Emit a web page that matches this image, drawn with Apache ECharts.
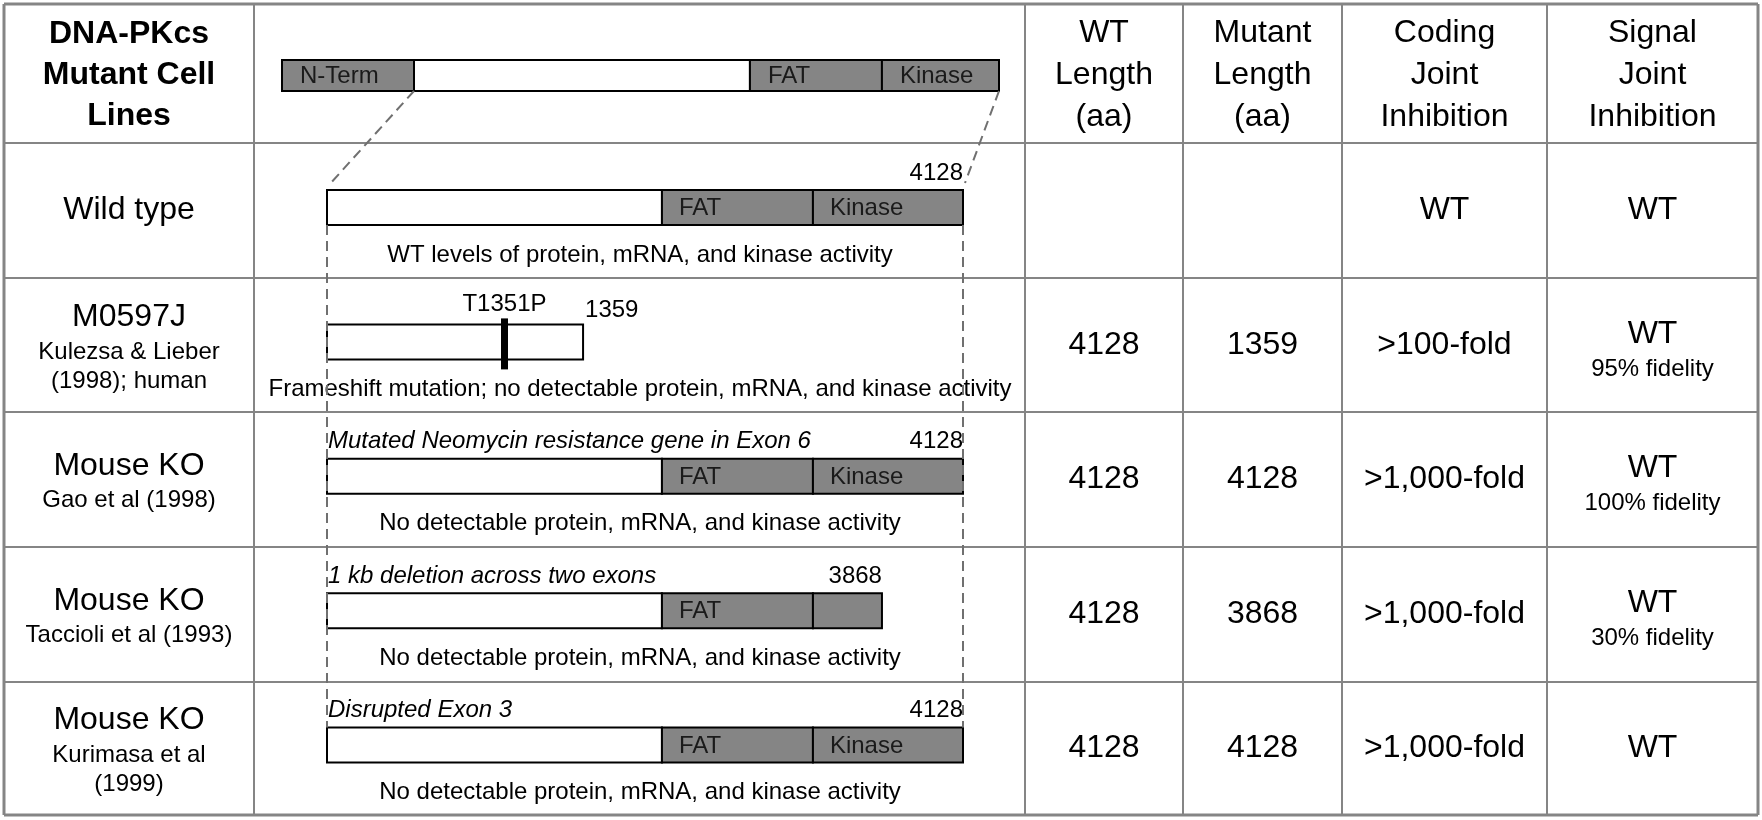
<!DOCTYPE html>
<html><head><meta charset="utf-8">
<script src="https://cdn.jsdelivr.net/npm/echarts@6/dist/echarts.min.js"></script>
<style>html,body{margin:0;padding:0;background:#fff}#c{width:1762px;height:820px}</style>
</head><body><div id="c"></div>
<script>
// ---------------- data ----------------
const headers = ['DNA-PKcs\nMutant Cell\nLines', '', 'WT\nLength\n(aa)', 'Mutant\nLength\n(aa)', 'Coding\nJoint\nInhibition', 'Signal\nJoint\nInhibition'];
const cellLines = ['Wild type', 'M0597J', 'Mouse KO', 'Mouse KO', 'Mouse KO'];
const cellRefs = [[], ['Kulezsa & Lieber', '(1998); human'], ['Gao et al (1998)'], ['Taccioli et al (1993)'], ['Kurimasa et al', '(1999)']];
const wtLength = ['', '4128', '4128', '4128', '4128'];
const mutantLength = ['', '1359', '4128', '3868', '4128'];
const codingInhibition = ['WT', '>100-fold', '>1,000-fold', '>1,000-fold', '>1,000-fold'];
const signalInhibition = ['WT', 'WT', 'WT', 'WT', 'WT'];
const signalFidelity = ['', '95% fidelity', '100% fidelity', '30% fidelity', ''];

const proteinLength = 4128;
// overview bar (header) domains, schematic aa positions
const overviewStarts = [0, 760, 2694, 3454];
const overviewEnds = [760, 2694, 3454, 4128];
const overviewLabels = ['N-Term', '', 'FAT', 'Kinase'];
const overviewShaded = [1, 0, 1, 1];
// per-row protein diagrams, schematic aa positions
const rowSegStarts = [[0, 2174, 3154], [0], [0, 2174, 3154], [0, 2174, 3154], [0, 2174, 3154]];
const rowSegEnds = [[2174, 3154, 4128], [1662], [2174, 3154, 4128], [2174, 3154, 3602], [2174, 3154, 4128]];
const rowSegLabels = [['', 'FAT', 'Kinase'], [''], ['', 'FAT', 'Kinase'], ['', 'FAT', ''], ['', 'FAT', 'Kinase']];
const rowSegShaded = [[0, 1, 1], [0], [0, 1, 1], [0, 1, 1], [0, 1, 1]];
const endLabels = ['4128', '1359', '4128', '3868', '4128'];
const mutationPos = [null, 1152, null, null, null];
const mutationLabels = ['', 'T1351P', '', '', ''];
const notes = ['', '', 'Mutated Neomycin resistance gene in Exon 6', '1 kb deletion across two exons', 'Disrupted Exon 3'];
const effects = [
  'WT levels of protein, mRNA, and kinase activity',
  'Frameshift mutation; no detectable protein, mRNA, and kinase activity',
  'No detectable protein, mRNA, and kinase activity',
  'No detectable protein, mRNA, and kinase activity',
  'No detectable protein, mRNA, and kinase activity'
];

// ---------------- layout / style ----------------
const FONT = "'Liberation Sans', Arial, Helvetica, sans-serif";
const colEdges = [4, 254, 1025, 1183, 1342, 1547, 1758];
const rowEdges = [4, 143, 278, 412, 547, 682, 815];
const LINE = '#858585';
const GRAY = '#858585';
const DASH = '#707070';
const BAR_TOP = 47, BAR_BOTTOM = 82;
const endLabelAfter = [false, true, false, false, false];

const chart = echarts.init(document.getElementById('c'), null, {renderer: 'canvas'});

// table graphics
const graphics = [];
rowEdges.forEach((y, i) => {
  const outer = (i === 0 || i === rowEdges.length - 1);
  graphics.push({type: 'line', z: 1, shape: {x1: colEdges[0], y1: y, x2: colEdges[colEdges.length - 1], y2: y}, style: {stroke: LINE, lineWidth: outer ? 3 : 2}});
});
colEdges.forEach((x, i) => {
  const outer = (i === 0 || i === colEdges.length - 1);
  graphics.push({type: 'line', z: 1, shape: {x1: x, y1: rowEdges[0], x2: x, y2: rowEdges[rowEdges.length - 1]}, style: {stroke: LINE, lineWidth: outer ? 3 : 2}});
});
function txt(text, x, y, size, opts) {
  opts = opts || {};
  return {type: 'text', z: 5, x: x, y: y, style: {text: text, font: (opts.weight || 'normal') + ' ' + size + 'px ' + FONT, fill: '#000', align: opts.align || 'center', verticalAlign: 'middle', lineHeight: opts.lineHeight || size * 1.2}};
}
const colCenter = c => (colEdges[c] + colEdges[c + 1]) / 2;
const rowCenter = r => (rowEdges[r + 1] + rowEdges[r + 2]) / 2;
headers.forEach((h, c) => {
  if (!h) return;
  graphics.push(txt(h, colCenter(c), 75, 32, {weight: c === 0 ? 'bold' : 'normal', lineHeight: c === 0 ? 41 : 42}));
});
cellLines.forEach((name, r) => {
  const cy = rowCenter(r), cx = colCenter(0);
  const refs = cellRefs[r];
  if (refs.length === 0) {
    graphics.push(txt(name, cx, cy, 32));
  } else if (refs.length === 1) {
    graphics.push(txt(name, cx, cy - 13, 32));
    graphics.push(txt(refs[0], cx, cy + 21, 24));
  } else {
    graphics.push(txt(name, cx, cy - 28, 32));
    graphics.push(txt(refs[0], cx, cy + 7, 24));
    graphics.push(txt(refs[1], cx, cy + 36, 24));
  }
  if (wtLength[r]) graphics.push(txt(wtLength[r], colCenter(2), cy, 32));
  if (mutantLength[r]) graphics.push(txt(mutantLength[r], colCenter(3), cy, 32));
  graphics.push(txt(codingInhibition[r], colCenter(4), cy, 32));
  if (signalFidelity[r]) {
    graphics.push(txt(signalInhibition[r], colCenter(5), cy - 11, 32));
    graphics.push(txt(signalFidelity[r], colCenter(5), cy + 24, 24));
  } else {
    graphics.push(txt(signalInhibition[r], colCenter(5), cy, 32));
  }
});

function segText(text, x, y, align, italic) {
  return {type: 'text', style: {text: text, x: x, y: y, font: (italic ? 'italic ' : '') + '24px ' + FONT, fill: '#000', align: align, verticalAlign: 'middle'}};
}

function renderOverview(params, api) {
  const i = params.dataIndex;
  const c = api.coord([overviewStarts[i], 0]);
  const xb = api.coord([overviewEnds[i], 0])[0];
  const h = api.size([0, 1])[1];
  const children = [{type: 'rect', shape: {x: c[0], y: c[1] - h / 2, width: xb - c[0], height: h},
    style: {fill: overviewShaded[i] ? GRAY : '#fff', stroke: '#000', lineWidth: 2}}];
  if (overviewLabels[i]) children.push({type: 'text', style: {text: overviewLabels[i], x: c[0] + 18, y: c[1] + 1, font: '24px ' + FONT, fill: '#1a1a1a', verticalAlign: 'middle'}});
  return {type: 'group', children: children};
}

function renderRow(params, api) {
  const r = api.value(1);
  const c = api.coord([0, r]);
  const band = api.size([0, 1])[1];
  const top = c[1] - band / 2;
  const y0 = top + BAR_TOP, y1 = top + BAR_BOTTOM;
  const children = [];
  rowSegStarts[r].forEach((s, i) => {
    const xa = api.coord([s, r])[0], xb = api.coord([rowSegEnds[r][i], r])[0];
    children.push({type: 'rect', shape: {x: xa, y: y0, width: xb - xa, height: y1 - y0},
      style: {fill: rowSegShaded[r][i] ? GRAY : '#fff', stroke: '#000', lineWidth: 2}});
    if (rowSegLabels[r][i]) children.push({type: 'text', style: {text: rowSegLabels[r][i], x: xa + 17, y: (y0 + y1) / 2 + 1, font: '24px ' + FONT, fill: '#1a1a1a', verticalAlign: 'middle'}});
  });
  const segs = rowSegEnds[r];
  const xEnd = api.coord([segs[segs.length - 1], r])[0];
  if (endLabelAfter[r]) children.push(segText(endLabels[r], xEnd + 2, top + 33, 'left'));
  else children.push(segText(endLabels[r], xEnd, top + 30, 'right'));
  if (mutationPos[r] != null) {
    const xm = api.coord([mutationPos[r], r])[0];
    children.push({type: 'rect', shape: {x: xm - 3.5, y: top + 41, width: 7, height: 51}, style: {fill: '#000'}});
    children.push(segText(mutationLabels[r], xm, top + 27, 'center'));
  }
  if (notes[r]) children.push(segText(notes[r], api.coord([0, r])[0] + 1, top + 30, 'left', true));
  const mid = (api.coord([0, r])[0] + api.coord([proteinLength, r])[0]) / 2 - 5;
  children.push(segText(effects[r], mid, top + 112, 'center'));
  return {type: 'group', children: children};
}

function renderGuides(params, api) {
  const band = api.size([0, 1])[1];
  const yStart = api.coord([0, 0])[1] - band / 2 + BAR_BOTTOM;
  const yEnd = api.coord([0, cellLines.length - 1])[1] - band / 2 + BAR_TOP;
  const xs = [api.coord([0, 0])[0], api.coord([proteinLength, 0])[0]];
  return {type: 'group', children: xs.map(x => ({type: 'line', shape: {x1: x, y1: yStart, x2: x, y2: yEnd},
    style: {stroke: DASH, lineWidth: 2, lineDash: [10, 6]}}))};
}

const rowCats = cellLines.map((_, i) => String(i));
const option = {
  backgroundColor: '#fff',
  animation: false,
  grid: [
    {left: 327, width: 636, top: 143, height: 672},
    {left: 282, width: 717, top: 60, height: 31}
  ],
  xAxis: [
    {type: 'value', gridIndex: 0, min: 0, max: proteinLength, show: false},
    {type: 'value', gridIndex: 1, min: 0, max: proteinLength, show: false}
  ],
  yAxis: [
    {type: 'category', gridIndex: 0, data: rowCats, inverse: true, show: false},
    {type: 'category', gridIndex: 1, data: ['0'], show: false}
  ],
  graphic: graphics,
  series: [
    {type: 'custom', xAxisIndex: 1, yAxisIndex: 1, clip: false, z: 3,
      data: overviewStarts.map((s, i) => [s, 0]), encode: {x: 0, y: 1}, renderItem: renderOverview},
    {type: 'custom', xAxisIndex: 0, yAxisIndex: 0, clip: false, z: 3,
      data: cellLines.map((_, i) => [0, i]), encode: {x: 0, y: 1}, renderItem: renderRow},
    {type: 'custom', xAxisIndex: 0, yAxisIndex: 0, clip: false, z: 6,
      data: [[0, 0]], encode: {x: 0, y: 1}, renderItem: renderGuides}
  ]
};
chart.setOption(option);

// connectors from overview bar to the wild-type bar
const ovBottom = 60 + 31;
const pA = chart.convertToPixel({gridIndex: 1}, [overviewEnds[0], 0]);
const pB = chart.convertToPixel({gridIndex: 1}, [proteinLength, 0]);
const qA = chart.convertToPixel({gridIndex: 0}, [0, 0]);
const qB = chart.convertToPixel({gridIndex: 0}, [proteinLength, 0]);
const wtTop = rowEdges[1] + BAR_TOP - 5;
graphics.push({type: 'line', z: 6, shape: {x1: pA[0], y1: ovBottom, x2: qA[0] + 2, y2: wtTop}, style: {stroke: DASH, lineWidth: 2, lineDash: [10, 6]}});
graphics.push({type: 'line', z: 6, shape: {x1: pB[0], y1: ovBottom, x2: qB[0] + 2, y2: wtTop - 2}, style: {stroke: DASH, lineWidth: 2, lineDash: [10, 6]}});
chart.setOption({graphic: graphics});
</script></body></html>
